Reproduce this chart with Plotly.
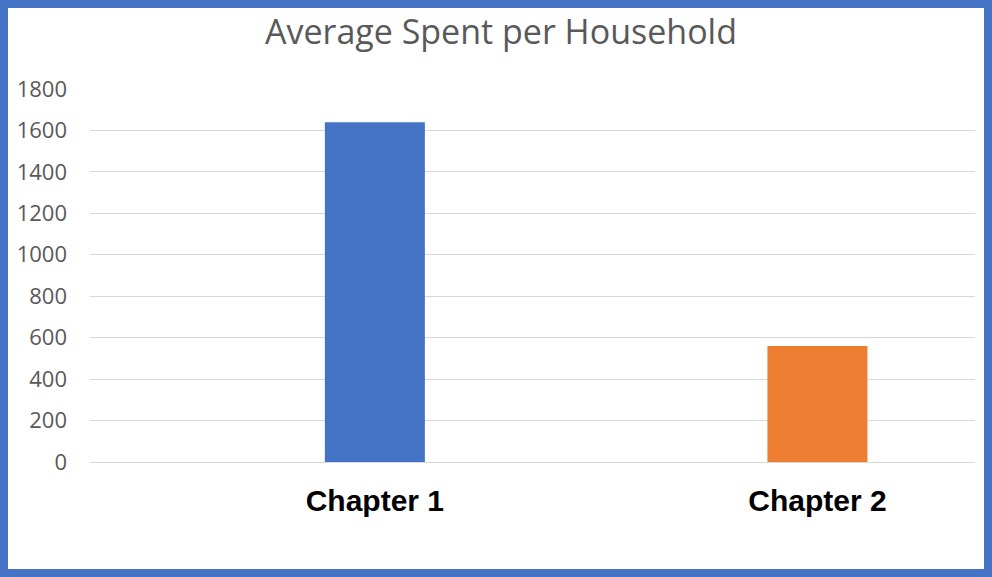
import plotly.graph_objects as go

categories = ["Chapter 1", "Chapter 2"]
values = [1640, 560]
colors = ["#4472C4", "#ED7D31"]
y_ticks = [0, 200, 400, 600, 800, 1000, 1200, 1400, 1600, 1800]

W, H = 992, 577
L, R, T, B = 90, 17, 89, 115
pw, ph = W - L - R, H - T - B

def px_x(x):
    return (x - L) / pw

def px_y(y):
    return (H - B - y) / ph

fig = go.Figure(go.Bar(
    x=[0, 1], y=values, marker=dict(color=colors, line=dict(width=0)),
    width=0.226, hoverinfo="skip",
))

fig.update_layout(
    width=W, height=H,
    margin=dict(l=L, r=R, t=T, b=B),
    paper_bgcolor="white", plot_bgcolor="white",
    showlegend=False,
    title=dict(text="Average Spent per Household", x=0.505, xanchor="center",
               y=1 - 32 / H, yanchor="middle",
               font=dict(family="Open Sans", size=34, color="#595959")),
    xaxis=dict(range=[-0.6436, 1.356], tickmode="array", tickvals=[0, 1],
               ticktext=categories, showgrid=False, zeroline=False, showline=False,
               ticks="", ticklabelstandoff=18,
               tickfont=dict(family="Liberation Sans", size=30, color="#000000", weight="bold")),
    yaxis=dict(range=[0, 1800], tickmode="array", tickvals=y_ticks,
               ticktext=[str(v) for v in y_ticks],
               showgrid=True, gridcolor="#D9D9D9", gridwidth=1,
               zeroline=True, zerolinecolor="#D9D9D9", zerolinewidth=1,
               showline=False, ticks="", ticklabelstandoff=22,
               tickfont=dict(family="Open Sans", size=22, color="#595959")),
    shapes=[dict(type="rect", xref="paper", yref="paper",
                 x0=px_x(4), x1=px_x(W - 4), y0=px_y(4), y1=px_y(H - 4),
                 line=dict(color="#4472C4", width=8), fillcolor="rgba(0,0,0,0)",
                 layer="above")],
)

fig.write_html("out.html", config={"displayModeBar": False, "staticPlot": True},
               post_script="document.body.style.margin='0px';document.body.style.overflow='hidden';")
